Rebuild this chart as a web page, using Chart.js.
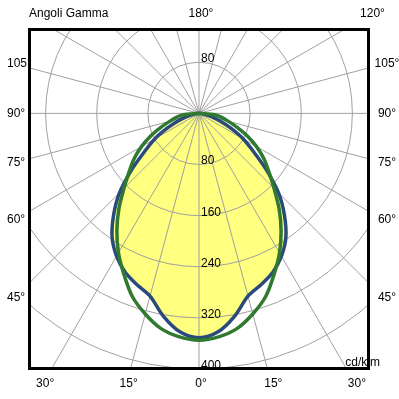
<!DOCTYPE html>
<html>
<head>
<meta charset="utf-8">
<script src="https://cdn.jsdelivr.net/npm/chart.js@4.4.0/dist/chart.umd.min.js"></script>
<style>
  body { margin: 0; background: #fff; }
</style>
</head>
<body>
<canvas id="chart" width="399" height="399"></canvas>
<script>
// gamma angles (deg from nadir) and intensity in cd/klm, curves are symmetric
const gammaAngles = [0, 5, 10, 15, 20, 25, 30, 35, 40, 45, 50, 55, 60, 65, 70, 75, 80, 85, 90];
const planeBlue  = [351, 343, 322, 296, 285, 274, 258, 237, 208, 176, 138, 104, 80, 55, 35, 20, 10, 4, 0];
const planeGreen = [355, 351, 342, 325, 305, 278, 252, 224, 195, 166, 143, 124, 104, 83, 63, 47, 36, 25, 0];

// grid and labels
const ringValues = [80, 160, 240, 320, 400];
const ringLabelsAbove = [80];
const sideTicks = [105, 90, 75, 60, 45];
const bottomTicks = [-30, -15, 0, 15, 30];
const topTicks = [180, 120];
const titleText = "Angoli Gamma";
const unitText = "cd/klm";

const FONT = '12px "Liberation Sans", Arial, sans-serif';

function polar(g, v) {
    const a = g * Math.PI / 180;
    return { x: v * Math.sin(a), y: -v * Math.cos(a) };
}

function toPoints(values) {
    const pts = [];
    for (let i = gammaAngles.length - 1; i > 0; i--) pts.push(polar(-gammaAngles[i], values[i]));
    for (let i = 0; i < gammaAngles.length; i++) pts.push(polar(gammaAngles[i], values[i]));
    return pts;
}

// ======================
// POLAR GRID + LABELS
// ======================
const polarGrid = {
    id: "polarGrid",
    beforeDatasetsDraw(chart) {
        const { ctx, chartArea: a, scales: { x, y } } = chart;
        const cx = x.getPixelForValue(0), cy = y.getPixelForValue(0);
        const unit = x.getPixelForValue(1) - cx;

        ctx.save();
        ctx.beginPath();
        ctx.rect(a.left, a.top, a.right - a.left, a.bottom - a.top);
        ctx.clip();
        ctx.strokeStyle = "#a0a0a0";
        ctx.lineWidth = 1;
        for (let r = 80; r <= 640; r += 80) {
            ctx.beginPath();
            ctx.arc(cx, cy, r * unit, 0, 2 * Math.PI);
            ctx.stroke();
        }
        for (let g = 0; g < 360; g += 15) {
            const p = polar(g, 700);
            ctx.beginPath();
            ctx.moveTo(cx, cy);
            ctx.lineTo(x.getPixelForValue(p.x), y.getPixelForValue(p.y));
            ctx.stroke();
        }
        ctx.restore();
    },
    afterDatasetsDraw(chart) {
        const { ctx, scales: { x, y } } = chart;
        const cx = x.getPixelForValue(0);
        ctx.save();
        ctx.font = FONT;
        ctx.fillStyle = "#000";
        ctx.textAlign = "left";
        ctx.textBaseline = "alphabetic";
        ringValues.forEach(v => ctx.fillText(String(v), cx + 2, y.getPixelForValue(-v)));
        ringLabelsAbove.forEach(v => ctx.fillText(String(v), cx + 2, y.getPixelForValue(v)));
        ctx.restore();
    },
    afterDraw(chart) {
        const { ctx, chartArea: a, scales: { x, y } } = chart;
        const cx = x.getPixelForValue(0), cy = y.getPixelForValue(0);

        ctx.save();
        ctx.strokeStyle = "#000";
        ctx.lineWidth = 3;
        ctx.strokeRect(a.left + 0.5, a.top + 0.5, a.right - a.left - 1, a.bottom - a.top - 1);

        ctx.font = FONT;
        ctx.fillStyle = "#000";
        ctx.textBaseline = "middle";

        // left / right: where each gamma line meets the label column
        sideTicks.forEach(g => {
            const ly = cy + 184 / Math.tan(g * Math.PI / 180);
            ctx.textAlign = "left";
            ctx.fillText(g + "°", 7, ly);
            ctx.textAlign = "center";
            ctx.fillText(g + "°", 387, ly);
        });

        ctx.textAlign = "center";
        bottomTicks.forEach(g => {
            ctx.fillText(Math.abs(g) + "°", cx + 270 * Math.tan(g * Math.PI / 180) + 2, 384);
        });
        topTicks.forEach(g => {
            ctx.fillText(g + "°", cx + 99 * Math.tan((180 - g) * Math.PI / 180) + 2, 14);
        });

        ctx.textAlign = "left";
        ctx.fillText(titleText, a.left, 14);

        ctx.textAlign = "right";
        ctx.textBaseline = "alphabetic";
        ctx.fillText(unitText, 380, 366);
        ctx.restore();
    }
};

// ======================
// CHART
// ======================
new Chart(document.getElementById("chart"), {
    type: "line",
    data: {
        datasets: [
            {
                label: "C90-270",
                data: toPoints(planeGreen),
                borderColor: "#2f7a2e",
                borderWidth: 3.5,
                pointRadius: 0,
                tension: 0.3,
                fill: false,
                order: 0
            },
            {
                label: "C0-180",
                data: toPoints(planeBlue),
                borderColor: "#2b4a7c",
                backgroundColor: "#ffff80",
                borderWidth: 3.5,
                pointRadius: 0,
                tension: 0.3,
                fill: "shape",
                order: 1
            }
        ]
    },
    options: {
        responsive: false,
        animation: false,
        devicePixelRatio: 1,
        layout: { padding: { left: 29, top: 29, right: 30, bottom: 30 } },
        scales: {
            x: { type: "linear", min: -266, max: 266, display: false },
            y: { type: "linear", min: -400, max: 132, display: false }
        },
        plugins: {
            legend: { display: false },
            tooltip: { enabled: false },
            filler: { drawTime: "beforeDatasetsDraw" }
        }
    },
    plugins: [polarGrid]
});
</script>
</body>
</html>
